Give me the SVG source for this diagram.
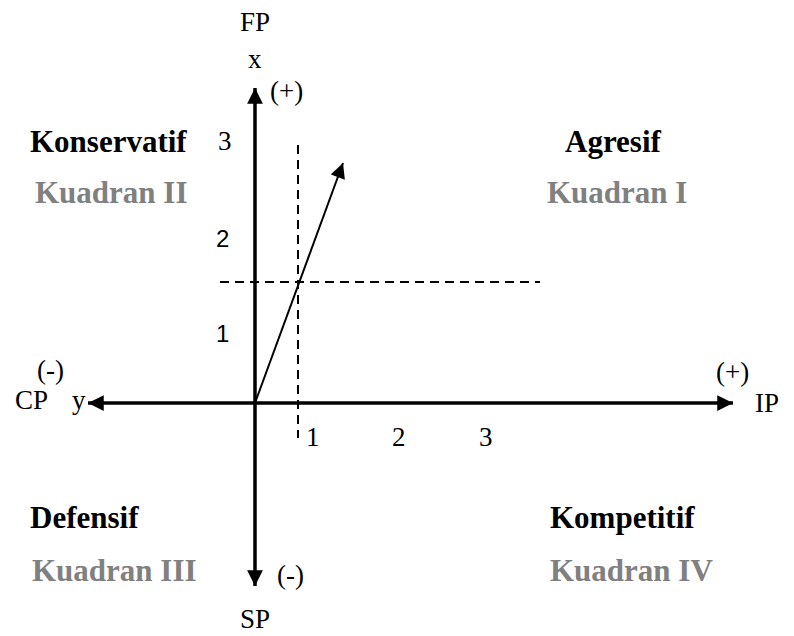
<svg xmlns="http://www.w3.org/2000/svg" width="794" height="636" viewBox="0 0 794 636">
<style>
.t{font-family:"Liberation Serif","Times New Roman",serif;font-size:27px;fill:#000}
.s{font-family:"Liberation Sans",Arial,sans-serif;font-size:24px;fill:#000}
.b{font-family:"Liberation Serif","Times New Roman",serif;font-size:31px;font-weight:bold;fill:#000}
.g{font-family:"Liberation Serif","Times New Roman",serif;font-size:31px;font-weight:bold;fill:#808080}
.ax{stroke:#000;stroke-width:3.5;fill:none}
.d{stroke:#000;stroke-width:2;stroke-dasharray:9,6;fill:none}
</style>
<defs>
<marker id="ah" viewBox="0 0 10 10" refX="10" refY="5" markerWidth="4.5" markerHeight="4.5" markerUnits="strokeWidth" orient="auto">
<path d="M0,0 L10,5 L0,10 z" fill="#000"/>
</marker>
<marker id="ah2" viewBox="0 0 10 10" refX="10" refY="5" markerWidth="8" markerHeight="7.5" markerUnits="strokeWidth" orient="auto">
<path d="M0,0 L10,5 L0,10 z" fill="#000"/>
</marker>
</defs>
<g id="connectors">
<line class="ax" x1="255" y1="403" x2="255" y2="88" marker-end="url(#ah)"/>
<line class="ax" x1="255" y1="403" x2="255" y2="586" marker-end="url(#ah)"/>
<line class="ax" x1="255" y1="403" x2="88" y2="403" marker-end="url(#ah)"/>
<line class="ax" x1="255" y1="403" x2="733" y2="403" marker-end="url(#ah)"/>
<line class="d" x1="298" y1="145" x2="298" y2="438"/>
<line class="d" x1="220" y1="282" x2="540" y2="282"/>
<line stroke="#000" stroke-width="2" x1="255" y1="403" x2="343" y2="163" marker-end="url(#ah2)"/>
</g>
<g id="axis-labels">
<text class="t" x="240" y="31">FP</text>
<text class="t" x="248" y="68">x</text>
<text class="t" x="270" y="100">(+)</text>
<text class="t" x="218" y="150">3</text>
<text class="s" x="216" y="247">2</text>
<text class="s" x="216" y="342">1</text>
<text class="t" x="37" y="379">(-)</text>
<text class="t" x="15" y="409">CP</text>
<text class="t" x="72" y="409">y</text>
<text class="t" x="716" y="381">(+)</text>
<text class="t" x="755" y="412">IP</text>
<text class="t" x="306" y="446">1</text>
<text class="t" x="392" y="446">2</text>
<text class="t" x="479" y="446">3</text>
<text class="t" x="277" y="584">(-)</text>
<text class="t" x="240" y="628">SP</text>
</g>
<g id="q1">
<text class="b" x="565" y="152">Agresif</text>
<text class="g" x="547" y="203">Kuadran I</text>
</g>
<g id="q2">
<text class="b" x="30" y="152">Konservatif</text>
<text class="g" x="35" y="203">Kuadran II</text>
</g>
<g id="q3">
<text class="b" x="30" y="528">Defensif</text>
<text class="g" x="32" y="581">Kuadran III</text>
</g>
<g id="q4">
<text class="b" x="550" y="528">Kompetitif</text>
<text class="g" x="550" y="581">Kuadran IV</text>
</g>
</svg>
